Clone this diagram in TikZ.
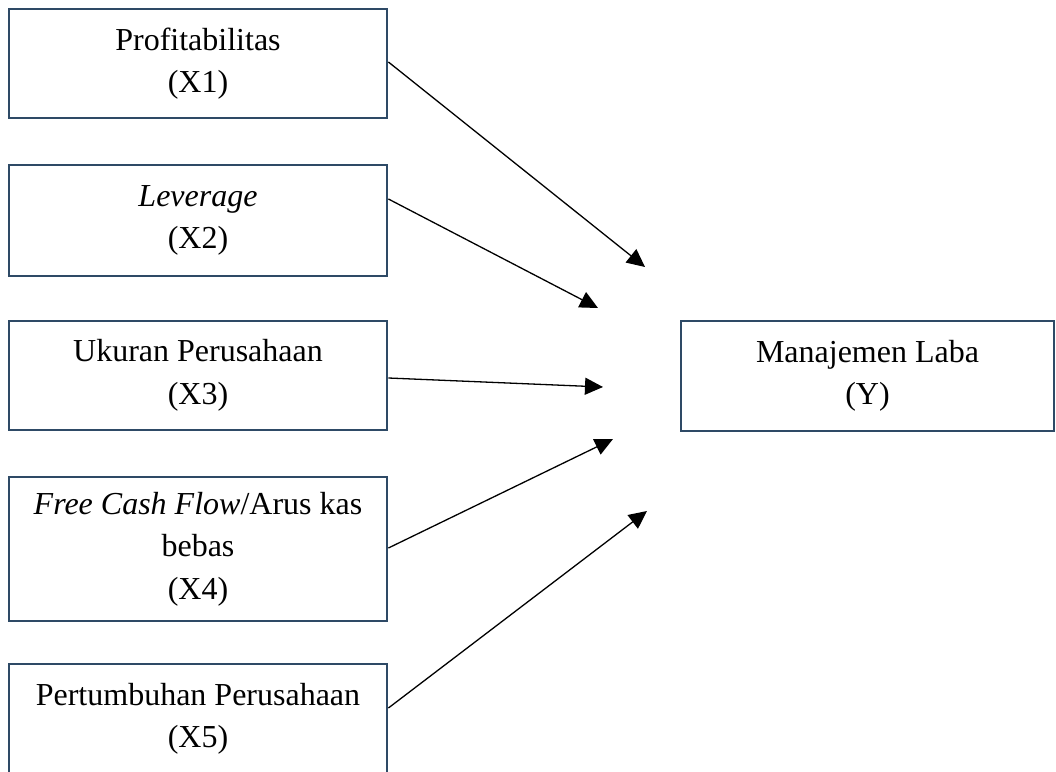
\documentclass[tikz,border=0pt]{standalone}
\usepackage{fontspec}
\setmainfont{Liberation Serif}
\usetikzlibrary{arrows.meta,calc}
\definecolor{boxblue}{RGB}{46,74,102}
\begin{document}
\begin{tikzpicture}[x=1pt,y=-1pt,
  varbox/.style={draw=boxblue,line width=2.8pt,minimum width=378pt,align=center,
    font=\fontsize{32}{42.5}\selectfont,inner sep=0pt},
  link/.style={line width=1.3pt,-{Triangle[length=18pt,width=17pt]}}]
\useasboundingbox (0,0) rectangle (1056,771);
\begin{scope}
\clip (0,0) rectangle (1056,771);
\node[varbox,minimum height=109pt] (b1) at (198,63.5) {Profitabilitas\\(X1)};
\node[varbox,minimum height=111pt] (b2) at (198,220.5) {\textit{Leverage}\\(X2)};
\node[varbox,minimum height=109pt] (b3) at (198,375.5) {Ukuran Perusahaan\\(X3)};
\node[varbox,minimum height=144pt] (b4) at (198,549) {\textit{Free Cash Flow}/Arus kas\\bebas\\(X4)};
\node[varbox,minimum height=110pt] (b5) at (198,719) {Pertumbuhan Perusahaan\\(X5)};
\node[varbox,minimum width=373pt,minimum height=110pt] (y) at (867.5,376) {Manajemen Laba\\(Y)};
\end{scope}
\coordinate (t1) at (645,267);
\coordinate (t2) at (598,308);
\coordinate (t3) at (603,387);
\coordinate (t4) at (613,439);
\coordinate (t5) at (647,511);
\draw[link] ([yshift=1.5pt]b1.east) -- (t1);
\draw[link] ([yshift=21.5pt]b2.east) -- (t2);
\draw[link] ([yshift=-2.5pt]b3.east) -- (t3);
\draw[link] ([yshift=1pt]b4.east) -- (t4);
\draw[link] ([yshift=11pt]b5.east) -- (t5);
\end{tikzpicture}
\end{document}
